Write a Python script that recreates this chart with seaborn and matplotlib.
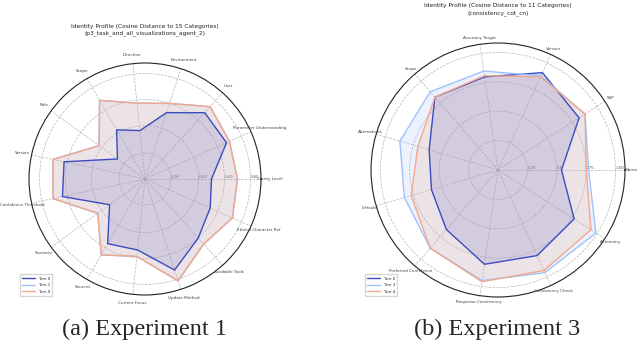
import numpy as np
import matplotlib
matplotlib.use("Agg")
import matplotlib.pyplot as plt
import seaborn as sns
import pandas as pd

# ---------------- data: Experiment 1 ----------------
cats_a = ["Clarity Level", "Parameter Understanding", "User", "Environment",
          "Direction", "Scope", "Role", "Version", "Confidence Threshold",
          "Scenario", "Sources", "Current Focus", "Update Method",
          "Available Tools", "Ethical Character Ref"]
turn0_a = [0.41, 0.55, 0.55, 0.43, 0.30, 0.35, 0.21, 0.51, 0.52, 0.27, 0.46, 0.44, 0.59, 0.49, 0.44]
turn1_a = [0.57, 0.57, 0.60, 0.49, 0.47, 0.56, 0.35, 0.58, 0.58, 0.36, 0.54, 0.48, 0.66, 0.54, 0.59]
turn9_a = [0.57, 0.57, 0.60, 0.49, 0.47, 0.56, 0.35, 0.58, 0.58, 0.36, 0.54, 0.48, 0.66, 0.54, 0.59]
names_a = ["Turn 0", "Turn 1", "Turn 9"]
rticks_a = [0.16, 0.33, 0.49, 0.65]
rlabels_a = ["0.16", "0.33", "0.49", "0.65"]
title_a = "Identity Profile (Cosine Distance to 15 Categories)\n(p3_task_and_all_visualizations_agent_2)"
caption_a = "(a) Experiment 1"

# ---------------- data: Experiment 3 ----------------
cats_b = ["Name", "SSP", "Version", "Accuracy Target", "Scope", "Alternatives",
          "Defaults", "Preferred Confidence", "Response Consistency",
          "Consistency Check", "Autonomy"]
turn0_b = [0.54, 0.82, 0.91, 0.80, 0.82, 0.61, 0.59, 0.67, 0.81, 0.80, 0.77]
turn3_b = [0.77, 0.88, 0.88, 0.85, 0.88, 0.87, 0.83, 0.88, 0.95, 0.96, 0.99]
turn4_b = [0.75, 0.88, 0.87, 0.81, 0.82, 0.71, 0.77, 0.88, 0.96, 0.94, 0.94]
names_b = ["Turn 0", "Turn 3", "Turn 4"]
rticks_b = [0.25, 0.50, 0.75, 1.00]
rlabels_b = ["0.25", "0.5", "0.75", "1.00"]
title_b = "Identity Profile (Cosine Distance to 11 Categories)\n(consistency_cot_cn)"
caption_b = "(b) Experiment 3"

colors = ["#3b4cc0", "#9ec2fc", "#f4a78a"]

sns.set_theme(style="white")
plt.rcParams['font.family'] = ['DejaVu Sans']

W, H = 640, 348
fig = plt.figure(figsize=(W / 100, H / 100), dpi=100)


def px_axes(cx, cy, r):
    return fig.add_axes([(cx - r) / W, 1 - (cy + r) / H, 2 * r / W, 2 * r / H],
                        projection='polar')


def radar(ax, cats, series, names, rmax, rticks, rlabels, lab_r):
    n = len(cats)
    ang = np.linspace(0, 2 * np.pi, n, endpoint=False)
    angc = np.concatenate([ang, ang[:1]])
    for vals, name, col in zip(series, names, colors):
        v = np.concatenate([np.asarray(vals), np.asarray(vals[:1])])
        df = pd.DataFrame({"theta": angc, "r": v})
        sns.lineplot(data=df, x="theta", y="r", ax=ax, sort=False, estimator=None,
                     color=col, lw=1.0, label=name)
        ax.fill(angc, v, color=col, alpha=0.2, lw=0)
    ax.set_xlabel("")
    ax.set_ylabel("")
    ax.set_xticks(ang)
    ax.set_xticklabels([])
    for a, c in zip(ang, cats):
        ax.text(a, rmax * lab_r, c, ha='center', va='center', fontsize=3,
                color='#444444', clip_on=False)
    ax.set_ylim(0, rmax)
    ax.set_yticks(rticks)
    ax.set_yticklabels(rlabels, fontsize=2.8, color="#555555")
    ax.set_rlabel_position(0)
    ax.grid(True, ls='--', color='#b5b5b5', lw=0.5)
    ax.spines['polar'].set_color('#222222')
    ax.spines['polar'].set_linewidth(0.8)
    ax.set_facecolor('white')
    if ax.get_legend() is not None:
        ax.get_legend().remove()


ax1 = px_axes(145, 179, 116)
radar(ax1, cats_a, [turn0_a, turn1_a, turn9_a], names_a, 0.715, rticks_a, rlabels_a, 1.078)
ax2 = px_axes(498, 170, 127)
radar(ax2, cats_b, [turn0_b, turn3_b, turn4_b], names_b, 1.08, rticks_b, rlabels_b, 1.05)

for ax, (lx, ly) in [(ax1, (18, 298)), (ax2, (363, 298))]:
    h, l = ax.get_legend_handles_labels()
    fig.legend(h, l, loc='lower left', bbox_to_anchor=(lx / W, 1 - ly / H),
               fontsize=2.9, frameon=True, handlelength=3, labelspacing=0.6,
               borderpad=0.6, edgecolor='#cccccc', fancybox=True)

fig.text(145 / W, 1 - 30 / H, title_a, ha='center', va='center', fontsize=4.2,
         color='#222222', linespacing=1.5)
fig.text(498 / W, 1 - 9.5 / H, title_b, ha='center', va='center', fontsize=4.2,
         color='#222222', linespacing=1.5)

fig.text(145 / W, 1 - 329 / H, caption_a, ha='center', va='center', fontsize=17.5,
         family=['Liberation Serif'])
fig.text(497 / W, 1 - 329 / H, caption_b, ha='center', va='center', fontsize=17.5,
         family=['Liberation Serif'])

fig.savefig("out.png", dpi=100, facecolor='white')
